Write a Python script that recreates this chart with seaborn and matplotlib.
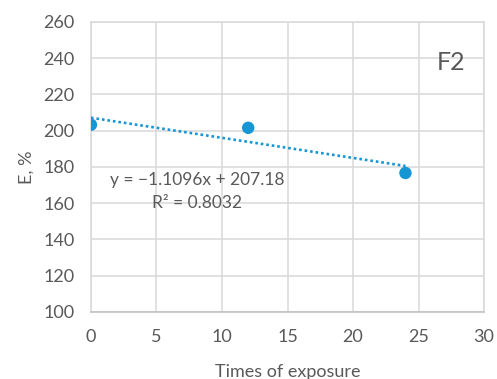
import matplotlib
matplotlib.use("Agg")
import matplotlib.pyplot as plt
import seaborn as sns
import numpy as np
import pandas as pd

# Data
exposure = [0, 12, 24]
elongation = [203.3, 201.6, 176.67]
x_ticks = [0, 5, 10, 15, 20, 25, 30]
y_ticks = [100, 120, 140, 160, 180, 200, 220, 240, 260]
eq_text = "y = \u22121.1096x + 207.18"
r2_text = "R\u00b2 = 0.8032"
panel_label = "F2"

sns.set_theme(style="white")
plt.rcParams['font.family'] = ['Lato', 'DejaVu Sans']

df = pd.DataFrame({"x": exposure, "y": elongation})

blue = "#1696D4"
text_c = "#595959"
grid_c = "#D9D9D9"

fig = plt.figure(figsize=(4.97, 3.79), dpi=100)
ax = fig.add_axes([0.183, 0.177, 0.791, 0.765])

sns.regplot(data=df, x="x", y="y", ax=ax, ci=None,
            scatter_kws=dict(s=80, color=blue, edgecolor="none", alpha=1, zorder=4),
            line_kws=dict(color=blue, lw=1.9, linestyle=(0, (1, 1.1)), zorder=3))

ax.set_xlim(0, 30)
ax.set_ylim(100, 260)
ax.set_xticks(x_ticks)
ax.set_yticks(y_ticks)
ax.grid(True, color=grid_c, lw=1.1)
ax.set_axisbelow(True)
for s in ax.spines.values():
    s.set_color(grid_c)
    s.set_linewidth(1.1)
ax.spines['bottom'].set_color("#BFBFBF")
ax.tick_params(axis='both', length=0, labelsize=13, colors=text_c, pad=12)
ax.set_xlabel("Times of exposure", fontsize=13, color=text_c, labelpad=14)
ax.set_ylabel("E, %", fontsize=13, color=text_c, labelpad=6)

ax.text(0.048, 0.455, eq_text, transform=ax.transAxes, fontsize=12.5, color=text_c,
        ha="left", va="center")
ax.text(0.155, 0.376, r2_text, transform=ax.transAxes, fontsize=12.5, color=text_c,
        ha="left", va="center")
ax.text(0.915, 0.86, panel_label, transform=ax.transAxes, fontsize=18, color=text_c,
        ha="center", va="center")

fig.savefig("out.png", dpi=100)
